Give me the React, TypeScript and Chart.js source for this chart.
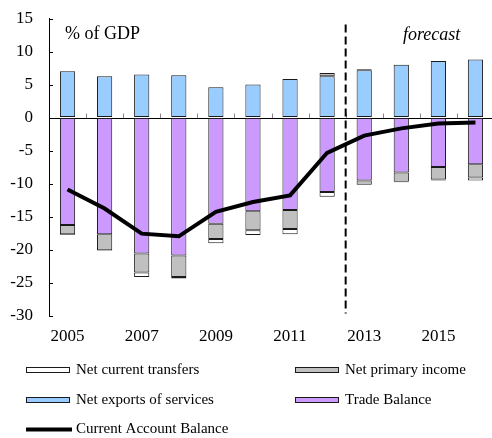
import React, { useEffect, useRef } from "react";
import { Chart, registerables } from "chart.js";

Chart.register(...registerables);

const years = ["2005", "2006", "2007", "2008", "2009", "2010", "2011", "2012", "2013", "2014", "2015", "2016"];
const servicesValues = [7.0, 6.25, 6.5, 6.4, 4.6, 5.0, 5.85, 6.25, 7.15, 8.0, 8.55, 8.8];
const tradeValues = [-16.3, -17.7, -20.6, -20.9, -16.1, -14.2, -14.0, -11.3, -9.55, -8.35, -7.5, -7.1];
const primaryValues = [-1.4, -2.4, -2.9, -3.25, -2.3, -2.9, -2.9, 0.5, -0.65, -1.4, -1.9, -2.0];
const transfersValues = [-0.1, -0.1, -0.65, -0.25, -0.65, -0.7, -0.8, -0.7, 0.15, -0.05, -0.15, -0.45];
const currentAccountValues = [-10.9, -13.8, -17.6, -18.0, -14.3, -12.8, -11.8, -5.35, -2.75, -1.65, -0.9, -0.75];
const yTicks = [15, 10, 5, 0, -5, -10, -15, -20, -25, -30];
const forecastBoundary = 7.5;

const FONT = '"Liberation Serif", "Times New Roman", serif';
const COLORS = {
  services: "#99CCFF",
  trade: "#CC99FF",
  primary: "#C0C0C0",
  transfers: "#FFFFFF",
  border: "#1a1a1a",
};

const overlay = {
  id: "overlay",
  beforeDatasetsDraw(chart: any) {
    const { ctx, chartArea, scales } = chart;
    const x = scales.x;
    const y = scales.y;
    ctx.save();
    ctx.strokeStyle = "#000";
    ctx.lineWidth = 1;
    yTicks.forEach((v) => {
      const py = Math.round(y.getPixelForValue(v)) + 0.5;
      ctx.beginPath();
      ctx.moveTo(chartArea.left, py);
      ctx.lineTo(chartArea.left + 4, py);
      ctx.stroke();
    });
    const y0 = Math.round(y.getPixelForValue(0)) + 0.5;
    ctx.strokeStyle = "#888";
    for (let i = 1; i < years.length; i++) {
      const px = Math.round(x.getPixelForValue(i - 0.5)) + 0.5;
      ctx.beginPath();
      ctx.moveTo(px, y0);
      ctx.lineTo(px, y0 - 5);
      ctx.stroke();
    }
    ctx.strokeStyle = "#000";
    ctx.beginPath();
    ctx.moveTo(chartArea.left, y0);
    ctx.lineTo(chartArea.right, y0);
    ctx.stroke();
    const fx = x.getPixelForValue(forecastBoundary);
    ctx.setLineDash([8, 4]);
    ctx.lineWidth = 2;
    ctx.beginPath();
    ctx.moveTo(fx, chartArea.top + 6);
    ctx.lineTo(fx, chartArea.bottom - 2);
    ctx.stroke();
    ctx.restore();
  },
  afterDraw(chart: any) {
    const { ctx } = chart;
    ctx.save();
    ctx.fillStyle = "#000";
    ctx.textBaseline = "alphabetic";
    ctx.textAlign = "left";
    ctx.font = `18px ${FONT}`;
    ctx.fillText("% of GDP", 65, 38.5);
    ctx.font = `italic 18px ${FONT}`;
    ctx.fillText("forecast", 403, 39.5);

    const rows = [370, 400, 429.5];
    const items = [
      { label: "Net current transfers", color: COLORS.transfers, col: 0, row: 0 },
      { label: "Net primary income", color: COLORS.primary, col: 1, row: 0 },
      { label: "Net exports of services", color: COLORS.services, col: 0, row: 1 },
      { label: "Trade Balance", color: COLORS.trade, col: 1, row: 1 },
    ];
    const cols = [26, 295];
    ctx.font = `15px ${FONT}`;
    ctx.textBaseline = "middle";
    items.forEach((it) => {
      const bx = cols[it.col];
      const cy = rows[it.row];
      ctx.fillStyle = it.color;
      ctx.fillRect(bx, cy - 3, 44, 6);
      ctx.strokeStyle = COLORS.border;
      ctx.lineWidth = 1;
      ctx.strokeRect(bx + 0.5, cy - 2.5, 43, 5);
      ctx.fillStyle = "#000";
      ctx.fillText(it.label, bx + 50, cy);
    });
    ctx.strokeStyle = "#000";
    ctx.lineWidth = 4;
    ctx.beginPath();
    ctx.moveTo(26, rows[2]);
    ctx.lineTo(72, rows[2]);
    ctx.stroke();
    ctx.fillStyle = "#000";
    ctx.fillText("Current Account Balance", 76, rows[2]);
    ctx.restore();
  },
};

export default function App() {
  const canvasRef = useRef<HTMLCanvasElement | null>(null);

  useEffect(() => {
    if (!canvasRef.current) return;
    const barCommon = {
      type: "bar" as const,
      stack: "bars",
      borderColor: COLORS.border,
      borderWidth: 1,
      borderSkipped: false,
      categoryPercentage: 1,
      barPercentage: 0.41,
      order: 1,
    };
    const chart = new Chart(canvasRef.current, {
      type: "bar",
      data: {
        labels: years,
        datasets: [
          { ...barCommon, label: "Net exports of services", data: servicesValues, backgroundColor: COLORS.services },
          { ...barCommon, label: "Trade Balance", data: tradeValues, backgroundColor: COLORS.trade },
          { ...barCommon, label: "Net primary income", data: primaryValues, backgroundColor: COLORS.primary },
          { ...barCommon, label: "Net current transfers", data: transfersValues, backgroundColor: COLORS.transfers },
          {
            type: "line" as const,
            label: "Current Account Balance",
            data: currentAccountValues,
            stack: "line",
            borderColor: "#000",
            borderWidth: 4,
            pointRadius: 0,
            tension: 0,
            fill: false,
            order: 0,
          } as any,
        ],
      },
      options: {
        responsive: false,
        animation: false,
        devicePixelRatio: 1,
        layout: { padding: { top: 18.5, bottom: 92.5, left: 0, right: 0 } },
        plugins: {
          legend: { display: false },
          tooltip: { enabled: false },
          title: { display: false },
        },
        scales: {
          x: {
            stacked: true,
            offset: true,
            grid: { display: false, drawTicks: false },
            border: { display: false },
            ticks: {
              autoSkip: false,
              maxRotation: 0,
              padding: 11,
              color: "#000",
              font: { family: FONT, size: 17 },
              callback: (_v: any, i: number) => (i % 2 === 0 ? years[i] : ""),
            },
            afterFit: (scale: any) => {
              scale.height = 30;
            },
          },
          y: {
            stacked: true,
            min: -30,
            max: 15,
            grid: {
              display: true,
              drawOnChartArea: false,
              drawTicks: true,
              tickLength: 16,
              tickColor: "rgba(0,0,0,0)",
            },
            border: { display: true, color: "#000", width: 1 },
            ticks: {
              stepSize: 5,
              padding: 0,
              color: "#000",
              font: { family: FONT, size: 17 },
            },
            afterFit: (scale: any) => {
              scale.width = 49;
            },
          },
        },
      },
      plugins: [overlay],
    } as any);
    return () => chart.destroy();
  }, []);

  return (
    <div style={{ position: "fixed", left: 0, top: 0, width: 492, height: 438, overflow: "hidden", background: "#fff" }}>
      <canvas ref={canvasRef} width={494} height={438} style={{ display: "block", width: 494, height: 438 }} />
    </div>
  );
}
